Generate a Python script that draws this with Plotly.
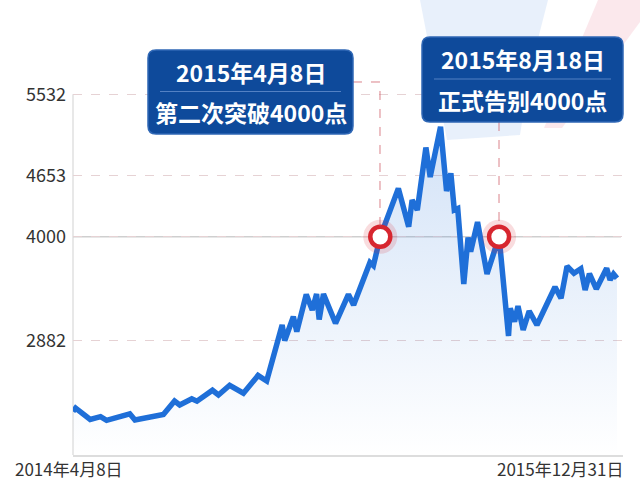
import plotly.graph_objects as go

# ---------------- data ----------------
dates = [
    "2014-04-08", "2014-04-11", "2014-04-28", "2014-05-10", "2014-05-17",
    "2014-06-13", "2014-06-19", "2014-07-22", "2014-08-04", "2014-08-10",
    "2014-08-24", "2014-08-30", "2014-09-17", "2014-09-24", "2014-10-07",
    "2014-10-23", "2014-11-09", "2014-11-19", "2014-12-07", "2014-12-10",
    "2014-12-20", "2014-12-24", "2015-01-04", "2015-01-11", "2015-01-16",
    "2015-01-19", "2015-01-24", "2015-02-07", "2015-02-22", "2015-02-28",
    "2015-03-19", "2015-03-23", "2015-03-31", "2015-04-21", "2015-05-03",
    "2015-05-07", "2015-05-13", "2015-05-23", "2015-05-28", "2015-06-09",
    "2015-06-16", "2015-06-21", "2015-06-25", "2015-06-29", "2015-07-06",
    "2015-07-11", "2015-07-14", "2015-07-22", "2015-08-02", "2015-08-16",
    "2015-08-27", "2015-08-29", "2015-09-03", "2015-09-07", "2015-09-13",
    "2015-09-20", "2015-09-29", "2015-10-20", "2015-10-27", "2015-11-03",
    "2015-11-11", "2015-11-19", "2015-11-24", "2015-11-29", "2015-12-07",
    "2015-12-19", "2015-12-23", "2015-12-27", "2015-12-31",
]
index_values = [
    2121, 2158, 2035, 2065, 2026,
    2096, 2030, 2089, 2234, 2191,
    2257, 2232, 2349, 2298, 2403,
    2317, 2508, 2449, 3051, 2884,
    3140, 2979, 3379, 3212, 3384,
    3110, 3384, 3069, 3379, 3266,
    3723, 3690, 4000, 4520, 4108,
    4395, 4287, 4959, 4642, 5183,
    4491, 4682, 4287, 4303, 3492,
    3991, 3839, 4158, 3599, 4000,
    2933, 3230, 3088, 3255, 2997,
    3201, 3051, 3459, 3338, 3682,
    3607, 3655, 3427, 3602, 3438,
    3660, 3535, 3599, 3553,
]
y_ticks = [2882, 4000, 4653, 5532]
y_tick_labels = ["2882", "4000", "4653", "5532"]
event_idx = [32, 49]
event_line1 = ["2015年4月8日", "2015年8月18日"]
event_line2 = ["第二次突破4000点", "正式告别4000点"]
start_label = "2014年4月8日"
end_label = "2015年12月31日"

# ---------------- geometry helpers (plot area in pixels) ----------------
L, R, T, B = 73, 623, 80, 455
W, H = R - L, B - T
FONT = "Noto Sans CJK SC"


def px(x):
    return (x - L) / W


def py(y):
    return (B - y) / H


def rounded_rect(x0, y0, x1, y1, r):
    pts = [
        ("M", [(x0 + r, y0)]), ("L", [(x1 - r, y0)]), ("Q", [(x1, y0), (x1, y0 + r)]),
        ("L", [(x1, y1 - r)]), ("Q", [(x1, y1), (x1 - r, y1)]), ("L", [(x0 + r, y1)]),
        ("Q", [(x0, y1), (x0, y1 - r)]), ("L", [(x0, y0 + r)]), ("Q", [(x0, y0), (x0 + r, y0)]),
    ]
    s = ""
    for cmd, ps in pts:
        s += cmd + " " + " ".join(f"{px(a):.5f},{py(b):.5f}" for a, b in ps) + " "
    return s + "Z"


def poly(points):
    return "M " + " L ".join(f"{px(a):.5f},{py(b):.5f}" for a, b in points) + " Z"


fig = go.Figure()

# filled area with gradient
fig.add_trace(go.Scatter(
    x=dates, y=index_values, mode="lines",
    line=dict(color="#1f6fd8", width=5.5, shape="linear"),
    fill="tozeroy",
    fillgradient=dict(
        type="vertical",
        colorscale=[[0, "rgba(31,111,216,0.0)"], [1, "rgba(31,111,216,0.20)"]],
        start=1653, stop=5200,
    ),
    hoverinfo="skip",
))

ev_x = [dates[i] for i in event_idx]
ev_y = [index_values[i] for i in event_idx]
# halo
fig.add_trace(go.Scatter(
    x=ev_x, y=ev_y, mode="markers",
    marker=dict(size=34, color="rgba(215,38,47,0.16)", line=dict(width=0)),
    hoverinfo="skip",
))
# ring marker
fig.add_trace(go.Scatter(
    x=ev_x, y=ev_y, mode="markers",
    marker=dict(size=20, color="white", line=dict(color="#d7262f", width=4.5)),
    hoverinfo="skip",
))

shapes = []
# faint background decoration (top right)
shapes.append(dict(type="path", xref="paper", yref="paper", layer="below",
                   path=poly([(420, 0), (548, 0), (530, 70), (520, 135), (447, 140)]),
                   fillcolor="rgba(214,228,247,0.55)", line=dict(width=0)))
shapes.append(dict(type="path", xref="paper", yref="paper", layer="below",
                   path=poly([(598, 0), (640, 0), (640, 22), (562, 128), (544, 128)]),
                   fillcolor="rgba(247,214,220,0.55)", line=dict(width=0)))

# left axis line
shapes.append(dict(type="line", xref="paper", yref="y", x0=0, x1=0, y0=5532, y1=1653,
                   line=dict(color="#d9d9d9", width=1.2), layer="below"))
# solid 4000 line
shapes.append(dict(type="line", xref="paper", yref="y", x0=0, x1=px(621), y0=4000, y1=4000,
                   line=dict(color="#cfcfcf", width=1.5), layer="below"))

# connectors
conn = dict(color="rgba(205,90,100,0.75)", width=1, dash="dash")
shapes.append(dict(type="path", xref="paper", yref="paper",
                   path=f"M {px(353):.5f},{py(82):.5f} L {px(380):.5f},{py(82):.5f} L {px(380):.5f},{py(226):.5f}",
                   line=conn))
shapes.append(dict(type="line", xref="paper", yref="paper",
                   x0=px(499), x1=px(499), y0=py(122), y1=py(226), line=conn))

# boxes
boxes = [(148, 50, 353, 134), (422, 37, 623, 122)]
for (x0, y0, x1, y1) in boxes:
    shapes.append(dict(type="path", xref="paper", yref="paper",
                       path=rounded_rect(x0, y0, x1, y1, 8),
                       fillcolor="#0e4a9b", line=dict(color="#2f67b5", width=1.5)))
    ym = (y0 + y1) / 2 - 0.5
    shapes.append(dict(type="line", xref="paper", yref="paper",
                       x0=px(x0 + 12), x1=px(x1 - 12), y0=py(ym), y1=py(ym),
                       line=dict(color="rgba(140,175,230,0.55)", width=1)))

annotations = []
for k, (x0, y0, x1, y1) in enumerate(boxes):
    cx = (x0 + x1) / 2
    annotations.append(dict(xref="paper", yref="paper", x=px(cx), y=py(y0 + 22),
                            text=f"<b>{event_line1[k]}</b>", showarrow=False,
                            xanchor="center", yanchor="middle",
                            font=dict(family=FONT, size=23, color="white")))
    annotations.append(dict(xref="paper", yref="paper", x=px(cx), y=py(y1 - 22),
                            text=f"<b>{event_line2[k]}</b>", showarrow=False,
                            xanchor="center", yanchor="middle",
                            font=dict(family=FONT, size=23, color="white")))

annotations.append(dict(xref="paper", yref="paper", x=px(13), y=py(468),
                        text=start_label, showarrow=False, xanchor="left", yanchor="middle",
                        font=dict(family=FONT, size=17, color="#333333")))
annotations.append(dict(xref="paper", yref="paper", x=px(625), y=py(468),
                        text=end_label, showarrow=False, xanchor="right", yanchor="middle",
                        font=dict(family=FONT, size=17, color="#333333")))

fig.update_layout(
    width=640, height=490,
    margin=dict(l=L, r=640 - R, t=T, b=490 - B),
    paper_bgcolor="white", plot_bgcolor="rgba(0,0,0,0)",
    showlegend=False, hovermode=False,
    shapes=shapes, annotations=annotations,
    xaxis=dict(
        type="date", range=["2014-04-08", "2016-01-07"],
        showgrid=False, showticklabels=False, ticks="",
        showline=True, linecolor="#dddddd", linewidth=1.5,
        zeroline=False, fixedrange=True,
    ),
    yaxis=dict(
        range=[1653, 5685],
        tickvals=y_ticks, ticktext=y_tick_labels,
        showgrid=True, gridcolor="#e6d2d4", griddash="dash", gridwidth=1,
        showline=False, zeroline=False, ticks="",
        tickfont=dict(family=FONT, size=18, color="#333333"),
        ticklabelstandoff=6, fixedrange=True,
    ),
)

fig.write_html("out.html", config={"displayModeBar": False},
               post_script="document.body.style.margin='0';")
